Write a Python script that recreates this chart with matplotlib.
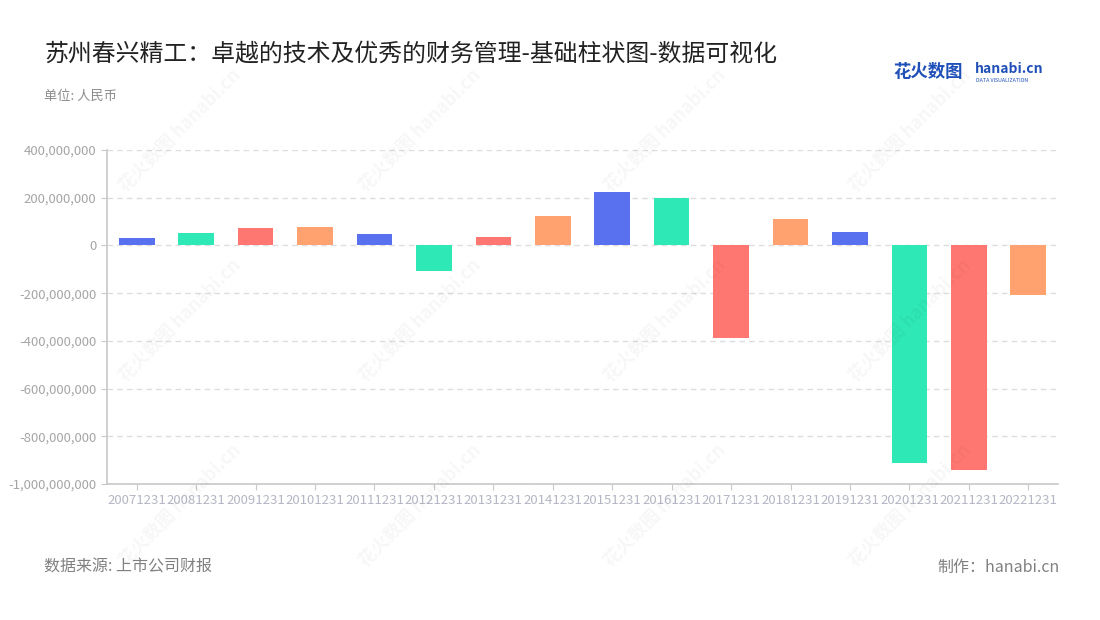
import matplotlib
matplotlib.use("Agg")
import matplotlib.pyplot as plt
from matplotlib.ticker import FuncFormatter, MultipleLocator

plt.rcParams["font.family"] = ["Noto Sans CJK SC", "DejaVu Sans"]

# data (人民币)
periods = ["20071231", "20081231", "20091231", "20101231", "20111231", "20121231",
           "20131231", "20141231", "20151231", "20161231", "20171231", "20181231",
           "20191231", "20201231", "20211231", "20221231"]
values = [31e6, 52e6, 73e6, 76e6, 46e6, -106e6, 34e6, 123e6, 224e6, 200e6,
          -388e6, 112e6, 56e6, -912e6, -941e6, -207e6]
palette = ["#5971ef", "#2ee8b5", "#ff7770", "#ffa26f"]

title = "苏州春兴精工：卓越的技术及优秀的财务管理-基础柱状图-数据可视化"
unit = "单位: 人民币"
source = "数据来源: 上市公司财报"
maker = "制作：hanabi.cn"

fig = plt.figure(figsize=(11, 6.2), dpi=100)
ax = fig.add_axes([107 / 1100, 1 - 484 / 620, (1058 - 107) / 1100, (484 - 150) / 620])

# faint watermarks
for wx in [180, 420, 665, 910]:
    for wy in [130, 320, 505]:
        fig.text(wx / 1100, 1 - wy / 620, "花火数图 hanabi.cn", rotation=45, fontsize=13,
                 color="#000000", alpha=0.035, ha="center", va="center", fontweight="bold")

colors = [palette[i % len(palette)] for i in range(len(values))]
x = range(len(periods))
ax.bar(x, values, width=0.6, color=colors, zorder=3)

ax.set_xlim(-0.5, len(periods) - 0.5)
ax.set_ylim(-1000e6, 400e6)
ax.yaxis.set_major_locator(MultipleLocator(200e6))
ax.yaxis.set_major_formatter(FuncFormatter(lambda v, p: f"{int(round(v)):,}"))
ax.set_xticks(list(x))
ax.set_xticklabels(periods)

ax.grid(axis="y", color="#dddddd", linestyle=(0, (4, 3)), linewidth=1, zorder=0)
for s in ["top", "right"]:
    ax.spines[s].set_visible(False)
for s in ["left", "bottom"]:
    ax.spines[s].set_color("#c8c8c8")
    ax.spines[s].set_linewidth(1.2)
ax.tick_params(axis="y", colors="#c8c8c8", labelcolor="#a5a5a5", labelsize=9.5, length=4)
ax.tick_params(axis="x", colors="#c8c8c8", labelcolor="#b4b6c4", labelsize=9.5, length=4, pad=3)

fig.text(44 / 1100, 1 - 55 / 620, title, fontsize=17.2, color="#222222", va="center")
fig.text(44 / 1100, 1 - 96 / 620, unit, fontsize=9.5, color="#8c8c8c", va="center")
fig.text(44 / 1100, 1 - 567 / 620, source, fontsize=11.5, color="#808080", va="center")
fig.text(1060 / 1100, 1 - 567 / 620, maker, fontsize=11.5, color="#808080", va="center", ha="right")

# logo
fig.text(893 / 1100, 1 - 72 / 620, "花火数图", fontsize=12.5, color="#1f4fb8", va="center",
         fontweight="bold")
fig.text(975 / 1100, 1 - 69 / 620, "hanabi.cn", fontsize=10, color="#1f4fb8", va="center",
         fontweight="bold")
fig.text(976 / 1100, 1 - 80 / 620, "DATA VISUALIZATION", fontsize=3.8, color="#1f4fb8",
         va="center")

fig.savefig("out.png", dpi=100)
